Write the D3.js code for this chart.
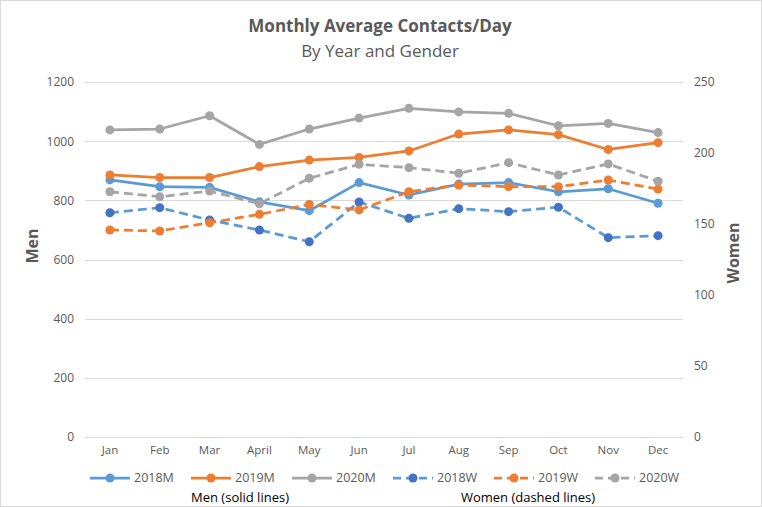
<!DOCTYPE html>
<html>
<head>
<meta charset="utf-8">
<script src="https://cdn.jsdelivr.net/npm/d3@7"></script>
<style>
  body { margin: 0; background: #fff; }
  svg { font-family: "Open Sans", sans-serif; }
</style>
</head>
<body>
<div id="chart"></div>
<script>
// data
var months = ["Jan", "Feb", "Mar", "April", "May", "Jun", "Jul", "Aug", "Sep", "Oct", "Nov", "Dec"];
var men2018 = [869, 846, 844, 795, 765, 860, 818, 855, 860, 829, 839, 790];
var men2019 = [886, 877, 877, 914, 936, 945, 967, 1024, 1038, 1022, 972, 995];
var men2020 = [1038, 1041, 1086, 989, 1041, 1078, 1111, 1099, 1094, 1052, 1060, 1029];
var women2018 = [157.9, 161.5, 152.8, 145.8, 137.5, 165.5, 154, 160.8, 158.7, 161.8, 140.4, 141.8];
var women2019 = [145.8, 145.1, 150.9, 156.8, 163.8, 159.9, 172.7, 177.5, 176.3, 176.3, 181, 174.6];
var women2020 = [172.7, 169.2, 173.2, 164.3, 182.2, 192, 189.7, 185.7, 193.2, 184.5, 192.3, 180.1];
var menTicks = [0, 200, 400, 600, 800, 1000, 1200];
var womenTicks = [0, 50, 100, 150, 200, 250];

var w = 762, h = 507;
var textColor = "#595959";

var series = [
  { name: "2018M", values: men2018, axis: "left", line: "#5b9bd5", marker: "#5b9bd5", dash: null },
  { name: "2019M", values: men2019, axis: "left", line: "#ed7d31", marker: "#ed7d31", dash: null },
  { name: "2020M", values: men2020, axis: "left", line: "#a5a5a5", marker: "#a5a5a5", dash: null },
  { name: "2018W", values: women2018, axis: "right", line: "#5b9bd5", marker: "#4472c4", dash: "9,5" },
  { name: "2019W", values: women2019, axis: "right", line: "#ed7d31", marker: "#ed7d31", dash: "9,5" },
  { name: "2020W", values: women2020, axis: "right", line: "#a5a5a5", marker: "#a5a5a5", dash: "9,5" }
];

var svg = d3.select("#chart").append("svg")
  .attr("width", w)
  .attr("height", h);

// chart border
svg.append("rect")
  .attr("x", 0.5).attr("y", 0.5)
  .attr("width", w - 1).attr("height", h - 1)
  .attr("fill", "#fff")
  .attr("stroke", "#d9d9d9");

// scales
var x = d3.scaleBand()
  .domain(months)
  .range([85, 683]);

var yLeft = d3.scaleLinear()
  .domain([0, 1200])
  .range([437, 82]);

var yRight = d3.scaleLinear()
  .domain([0, 250])
  .range([437, 82]);

// title
svg.append("text")
  .attr("x", 380).attr("y", 32)
  .attr("text-anchor", "middle")
  .attr("fill", textColor)
  .style("font-size", "17px")
  .style("font-weight", "bold")
  .text("Monthly Average Contacts/Day");

svg.append("text")
  .attr("x", 380).attr("y", 57)
  .attr("text-anchor", "middle")
  .attr("fill", textColor)
  .style("font-size", "17px")
  .text("By Year and Gender");

// gridlines
svg.append("g")
  .selectAll("line")
  .data(menTicks)
  .enter()
  .append("line")
  .attr("x1", 85).attr("x2", 683)
  .attr("y1", function(d) { return Math.round(yLeft(d)) + 0.5; })
  .attr("y2", function(d) { return Math.round(yLeft(d)) + 0.5; })
  .attr("stroke", "#d9d9d9")
  .attr("stroke-width", 1);

// left axis
var leftAxis = svg.append("g")
  .attr("transform", "translate(78,0)")
  .call(d3.axisLeft(yLeft).tickValues(menTicks).tickFormat(d3.format("d")).tickSize(0).tickPadding(4));
leftAxis.select(".domain").remove();
leftAxis.selectAll("text")
  .attr("fill", textColor)
  .style("font-size", "12px")
  .style("font-family", "Open Sans, sans-serif");

// right axis
var rightAxis = svg.append("g")
  .attr("transform", "translate(690,0)")
  .call(d3.axisRight(yRight).tickValues(womenTicks).tickFormat(d3.format("d")).tickSize(0).tickPadding(4));
rightAxis.select(".domain").remove();
rightAxis.selectAll("text")
  .attr("fill", textColor)
  .style("font-size", "12px")
  .style("font-family", "Open Sans, sans-serif");

// bottom axis (month labels)
var bottomAxis = svg.append("g")
  .attr("transform", "translate(0,442)")
  .call(d3.axisBottom(x).tickSize(0).tickPadding(4));
bottomAxis.select(".domain").remove();
bottomAxis.selectAll("text")
  .attr("fill", textColor)
  .style("font-size", "11.5px")
  .style("font-family", "Open Sans, sans-serif");

// axis titles
svg.append("text")
  .attr("transform", "translate(38,246) rotate(-90)")
  .attr("text-anchor", "middle")
  .attr("fill", textColor)
  .style("font-size", "16px")
  .style("font-weight", "bold")
  .text("Men");

svg.append("text")
  .attr("transform", "translate(739,253) rotate(-90)")
  .attr("text-anchor", "middle")
  .attr("fill", textColor)
  .style("font-size", "16px")
  .style("font-weight", "bold")
  .text("Women");

// lines and markers
var cx = function(d, i) { return x(months[i]) + x.bandwidth() / 2; };

series.forEach(function(s) {
  var y = s.axis == "left" ? yLeft : yRight;
  var line = d3.line()
    .x(cx)
    .y(function(d) { return y(d); });

  var g = svg.append("g");

  g.append("path")
    .datum(s.values)
    .attr("d", line)
    .attr("fill", "none")
    .attr("stroke", s.line)
    .attr("stroke-width", 2.75)
    .attr("stroke-linejoin", "round")
    .attr("stroke-dasharray", s.dash);

  g.selectAll("circle")
    .data(s.values)
    .enter()
    .append("circle")
    .attr("cx", cx)
    .attr("cy", function(d) { return y(d); })
    .attr("r", 4.5)
    .attr("fill", s.marker);
});

// legend
var legendX = [90, 191, 292, 393, 494, 595];
var legend = svg.append("g")
  .selectAll("g")
  .data(series)
  .enter()
  .append("g")
  .attr("transform", function(d, i) { return "translate(" + legendX[i] + ",478)"; });

legend.append("line")
  .attr("x1", 0).attr("x2", 40)
  .attr("stroke", function(d) { return d.line; })
  .attr("stroke-width", 2.75)
  .attr("stroke-dasharray", function(d) { return d.dash ? "8,5" : null; });

legend.append("circle")
  .attr("cx", 20)
  .attr("r", 4.5)
  .attr("fill", function(d) { return d.marker; });

legend.append("text")
  .attr("x", 44)
  .attr("dy", "0.35em")
  .attr("fill", textColor)
  .style("font-size", "12.5px")
  .text(function(d) { return d.name; });

svg.append("text")
  .attr("x", 240).attr("y", 502)
  .attr("text-anchor", "middle")
  .attr("fill", "#000")
  .style("font-size", "13px")
  .text("Men (solid lines)");

svg.append("text")
  .attr("x", 528).attr("y", 502)
  .attr("text-anchor", "middle")
  .attr("fill", "#000")
  .style("font-size", "13px")
  .text("Women (dashed lines)");
</script>
</body>
</html>
